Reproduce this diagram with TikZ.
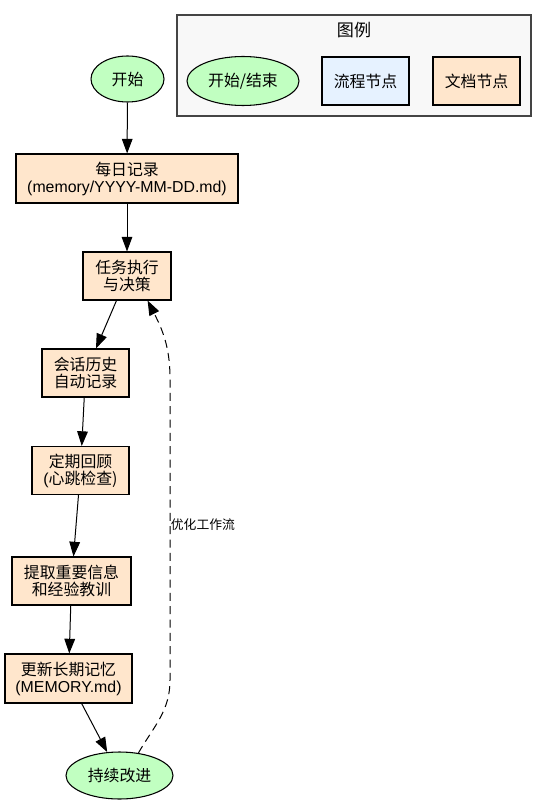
\documentclass[tikz,border=0pt]{standalone}
\usepackage{fontspec}
\setmainfont{Liberation Sans}
\newfontfamily\zh{Noto Sans CJK SC}
\usetikzlibrary{arrows.meta,shapes.geometric}
\definecolor{termgreen}{RGB}{193,255,193}
\definecolor{docpeach}{RGB}{255,230,204}
\definecolor{procblue}{RGB}{230,242,255}
\definecolor{legendgray}{RGB}{248,248,248}
\definecolor{framegray}{RGB}{68,68,68}
\tikzset{
  term/.style={draw, ellipse, fill=termgreen, inner sep=0pt, align=center, line width=0.8pt},
  doc/.style={draw, fill=docpeach, inner sep=0pt, align=center, minimum height=36pt, line width=0.8pt},
  proc/.style={draw, fill=procblue, inner sep=0pt, align=center, minimum height=36pt, line width=0.8pt},
  legendframe/.style={draw=framegray, fill=legendgray, line width=0.9pt, minimum width=265.5pt, minimum height=75.75pt},
  arrow/.style={-{Triangle[length=11pt,width=8pt]}, line width=0.75pt},
  dasharrow/.style={arrow, dash pattern=on 6pt off 4pt},
  looplabel/.style={anchor=west, inner sep=0.5pt, font=\zh\fontsize{9.6}{11}\selectfont}
}

\begin{document}
\begin{tikzpicture}[x=0.75pt, y=-0.75pt, font=\fontsize{11.9}{12.8}\selectfont]
  \useasboundingbox (0,0) rectangle (547,805);
  % legend
  \node[legendframe] (legend) at (354,65.5) {};
  \node[font=\zh\fontsize{12.8}{14}\selectfont] (legendtitle) at (354,30) {图例};
  \node[term, minimum width=84pt, minimum height=36.75pt] (legterm) at (243,81) {\zh 开始/结束};
  \node[proc, minimum width=65.25pt] (legproc) at (365.5,81) {\zh 流程节点};
  \node[doc, minimum width=65.25pt] (legdoc) at (476.5,81) {\zh 文档节点};
  % main flow
  \node[term, minimum width=54.75pt, minimum height=34.5pt] (start) at (127.5,79) {\zh 开始};
  \node[doc, minimum width=166.5pt, minimum height=36.75pt] (daily) at (127,178.5) {{\zh 每日记录}\\(memory/YYYY-MM-DD.md)};
  \node[doc, minimum width=66pt] (task) at (127,276) {\zh 任务执行\\\zh 与决策};
  \node[doc, minimum width=65.25pt] (session) at (85.5,373) {\zh 会话历史\\\zh 自动记录};
  \node[doc, minimum width=72.75pt] (review) at (80.5,470.5) {{\zh 定期回顾}\\(\zh 心跳检查)};
  \node[doc, minimum width=89.25pt] (extract) at (71.5,581) {\zh 提取重要信息\\\zh 和经验教训};
  \node[doc, minimum width=95.25pt, minimum height=36.75pt] (update) at (68.5,678.5) {{\zh 更新长期记忆}\\(MEMORY.md)};
  \node[term, minimum width=80.25pt, minimum height=35.25pt] (improve) at (119.5,775.5) {\zh 持续改进};
  \draw[arrow] (start) -- (daily);
  \draw[arrow] (daily) -- (task);
  \draw[arrow] (task) -- (session);
  \draw[arrow] (session) -- (review);
  \draw[arrow] (review) -- (extract);
  \draw[arrow] (extract) -- (update);
  \draw[arrow] (update) -- (improve);
  % feedback loop
  \coordinate (loopbot) at (170,680);
  \coordinate (looptop) at (170,378);
  \draw[dasharrow] (improve.50) to[out=60, in=-90] (loopbot) -- (looptop) to[out=90, in=-63] (task.-50);
  \node[looplabel] (loopnote) at (170,525) {优化工作流};
\end{tikzpicture}
\end{document}
